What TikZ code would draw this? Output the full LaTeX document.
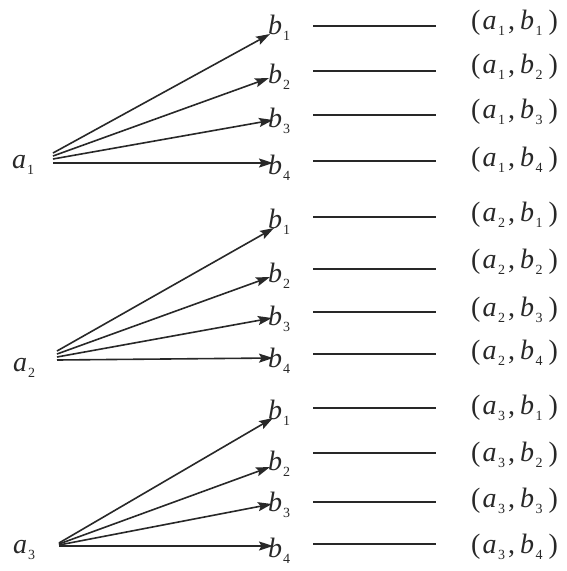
\documentclass[tikz,border=0pt]{standalone}
\usepackage{fontspec}
\setmainfont{Liberation Serif}
\usetikzlibrary{arrows.meta}
\definecolor{ink}{RGB}{40,40,40}
\newcommand{\sbs}[1]{\raisebox{-6pt}{\fontsize{14}{14}\selectfont #1}}
\newcommand{\lab}[2]{\textit{#1}\kern1pt\sbs{#2}}
\newcommand{\pr}[2]{(\kern2pt\textit{a}\kern1.5pt\sbs{#1}\kern3pt,\kern5pt\textit{b}\kern1.5pt\sbs{#2}\kern6pt)}
\begin{document}
\begin{tikzpicture}[x=1pt,y=-1pt,
  lbl/.style={inner sep=0pt, anchor=base west, font=\fontsize{28}{30}\selectfont, text=ink},
  fan/.style={draw=ink, line width=1.6pt, -{Stealth[length=14pt,width=9pt,inset=2.5pt]}},
  bar/.style={draw=ink, line width=1.6pt}]
\useasboundingbox[fill=white] (0,0) rectangle (567,571);
% a nodes
\node[lbl] (a1) at (12,168) {\lab{a}{1}};
\node[lbl] (a2) at (13,371) {\lab{a}{2}};
\node[lbl] (a3) at (13,553) {\lab{a}{3}};
% rows: group/k/origin x/origin y/tip x/tip y/b baseline/line y/pair baseline
\foreach \g/\k/\ox/\oy/\tx/\ty/\by/\ly/\py in {
  1/1/53/153/270/34/34/26/29,
  1/2/53/156/269/78/83/71/73,
  1/3/53/159/273/120/127/115/118,
  1/4/53/163/273/163/174/161/166,
  2/1/57/351/274/228/228/217/221,
  2/2/57/354/270/277/282/269/268,
  2/3/57/357/272/318/325/312/316,
  2/4/57/360/273/358/367/354/359,
  3/1/59/543/273/418/419/408/414,
  3/2/59/544/270/467/470/453/461,
  3/3/59/545/272/504/511/502/507,
  3/4/59/546/273/546/557/544/553}{
  \coordinate (o\g\k) at (\ox,\oy);
  \coordinate (t\g\k) at (\tx,\ty);
  \node[lbl] (b\g\k) at (268,\by) {\lab{b}{\k}};
  \coordinate (l\g\k) at (313,\ly);
  \coordinate (r\g\k) at (436,\ly);
  \node[lbl] (p\g\k) at (471,\py) {\pr{\g}{\k}};
  \draw[fan] (o\g\k) -- (t\g\k);
  \draw[bar] (l\g\k) -- (r\g\k);
}
\end{tikzpicture}
\end{document}
